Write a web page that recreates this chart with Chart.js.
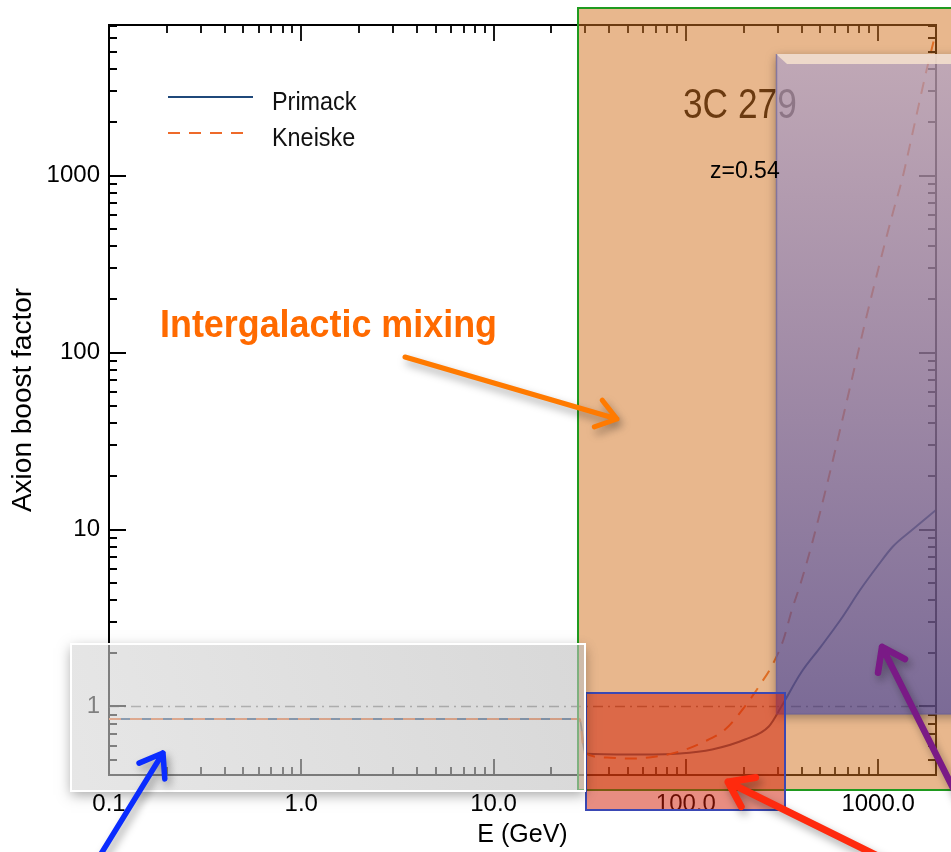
<!DOCTYPE html>
<html>
<head>
<meta charset="utf-8">
<title>3C 279 axion boost factor</title>
<script src="https://cdn.jsdelivr.net/npm/chart.js@4.4.1/dist/chart.umd.min.js"></script>
<style>
  html, body { margin: 0; padding: 0; background: #ffffff; }
  canvas { display: block; }
</style>
</head>
<body>
<canvas id="boost" width="951" height="852"></canvas>
<script>
// Boost factor versus photon energy (GeV) for two EBL models
const primackEnergy = [0.1, 28, 30, 52, 93, 137, 203, 270, 314, 398, 504, 639, 809, 989, 1194, 1511, 2000];
const primackBoost  = [0.85, 0.85, 0.54, 0.535, 0.543, 0.572, 0.651, 0.771, 1.0, 1.556, 2.18, 3.10, 4.58, 6.18, 8.02, 10.0, 12.9];

const kneiskeEnergy = [0.1, 28, 29.6, 38.9, 51.6, 70.2, 93, 122, 160, 201, 248, 279, 322, 354, 398, 459, 547, 638, 744, 858, 1000, 1194, 1344, 1512, 1804, 1982];
const kneiskeBoost  = [0.85, 0.85, 0.55, 0.515, 0.508, 0.522, 0.557, 0.626, 0.741, 0.987, 1.37, 1.68, 2.39, 3.44, 5.08, 8.78, 18.7, 37.7, 77.1, 150, 294, 618, 987, 1750, 4130, 6260];

// no-mixing reference level
const unityEnergy = [0.1, 2000];
const unityBoost  = [1, 1];

const seriesNames = ['Primack', 'Kneiske'];
const xTickValues = [0.1, 1, 10, 100, 1000];
const xTickText   = ['0.1', '1.0', '10.0', '100.0', '1000.0'];
const yTickValues = [1, 10, 100, 1000];
const yTickText   = ['1', '10', '100', '1000'];

const sourceName = '3C 279';
const redshiftText = 'z=0.54';
const calloutText = 'Intergalactic mixing';

const SANS = "'Liberation Sans', Arial, sans-serif";

const toPoints = (xs, ys) => xs.map((v, i) => ({ x: v, y: ys[i] }));

function labelFor(values, texts) {
  return (v) => {
    const i = values.findIndex(t => Math.abs(t - v) / t < 1e-6);
    return i >= 0 ? texts[i] : '';
  };
}
function isDecade(v) {
  const l = Math.log10(v);
  return Math.abs(l - Math.round(l)) < 1e-6;
}
function onLogGrid(v) {
  const m = v / Math.pow(10, Math.floor(Math.log10(v) + 1e-9));
  return Math.abs(m - Math.round(m)) < 1e-6;
}
// text squeezed horizontally, for the narrow lettering
function condensedText(ctx, text, x, y, font, sx) {
  ctx.save();
  ctx.font = font;
  ctx.textBaseline = 'alphabetic';
  ctx.translate(x, y);
  ctx.scale(sx, 1);
  ctx.fillText(text, 0, 0);
  ctx.restore();
}

// inward tick marks on all four sides, top/right frame, legend, source name
const frameAndLegend = {
  id: 'frameAndLegend',
  afterDatasetsDraw(chart) {
    const { ctx, chartArea: a, scales: { x, y } } = chart;
    ctx.save();
    ctx.strokeStyle = '#000';
    ctx.lineWidth = 2;
    ctx.beginPath();
    ctx.moveTo(a.left, a.top);
    ctx.lineTo(a.right, a.top);
    ctx.lineTo(a.right, a.bottom);
    ctx.stroke();

    ctx.lineWidth = 1.8;
    ctx.beginPath();
    for (const t of x.ticks) {
      if (!onLogGrid(t.value)) continue;
      const px = Math.round(x.getPixelForValue(t.value));
      const len = isDecade(t.value) ? 16 : 8;
      ctx.moveTo(px, a.bottom); ctx.lineTo(px, a.bottom - len);
      ctx.moveTo(px, a.top); ctx.lineTo(px, a.top + len);
    }
    for (const t of y.ticks) {
      if (!onLogGrid(t.value)) continue;
      const py = Math.round(y.getPixelForValue(t.value));
      const len = isDecade(t.value) ? 17 : 8;
      ctx.moveTo(a.left, py); ctx.lineTo(a.left + len, py);
      ctx.moveTo(a.right, py); ctx.lineTo(a.right - len, py);
    }
    ctx.stroke();

    // legend
    const rows = [[0, 97, 110, 253], [1, 133, 146, 250]];
    for (const [i, ly, ty, end] of rows) {
      const ds = chart.data.datasets[i];
      ctx.strokeStyle = ds.borderColor;
      ctx.lineWidth = 2;
      ctx.setLineDash(ds.borderDash || []);
      ctx.beginPath();
      ctx.moveTo(168, ly);
      ctx.lineTo(end, ly);
      ctx.stroke();
      ctx.setLineDash([]);
      ctx.fillStyle = '#111';
      condensedText(ctx, ds.label, 272, ty, '26px ' + SANS, 0.9);
    }

    ctx.fillStyle = '#000';
    condensedText(ctx, sourceName, 683, 118, '42px ' + SANS, 0.84);
    ctx.restore();
  }
};

function arrow(ctx, x0, y0, x1, y1, color, w, head) {
  const ang = Math.atan2(y1 - y0, x1 - x0);
  ctx.save();
  ctx.strokeStyle = color;
  ctx.lineWidth = w;
  ctx.lineCap = 'round';
  ctx.lineJoin = 'round';
  ctx.shadowColor = 'rgba(0,0,0,0.35)';
  ctx.shadowBlur = 9;
  ctx.shadowOffsetX = 3;
  ctx.shadowOffsetY = 5;
  ctx.beginPath();
  ctx.moveTo(x0, y0);
  ctx.lineTo(x1, y1);
  ctx.moveTo(x1 - head * Math.cos(ang - 0.62), y1 - head * Math.sin(ang - 0.62));
  ctx.lineTo(x1, y1);
  ctx.lineTo(x1 - head * Math.cos(ang + 0.62), y1 - head * Math.sin(ang + 0.62));
  ctx.stroke();
  ctx.restore();
}

function softShadow(ctx, x, y, w, h, blur, dy) {
  ctx.save();
  ctx.beginPath();
  ctx.rect(0, 0, ctx.canvas.width, ctx.canvas.height);
  ctx.rect(x, y, w, h);
  ctx.clip('evenodd');
  ctx.shadowColor = 'rgba(0,0,0,0.35)';
  ctx.shadowBlur = blur;
  ctx.shadowOffsetY = dy;
  ctx.fillStyle = '#000';
  ctx.fillRect(x, y, w, h);
  ctx.restore();
}

// highlighted regions, arrows and callout text
const highlights = {
  id: 'highlights',
  afterDraw(chart) {
    const { ctx } = chart;
    ctx.save();

    // intergalactic-mixing band
    ctx.fillStyle = 'rgba(210,114,31,0.51)';
    ctx.fillRect(578, 8, 400, 782);
    ctx.strokeStyle = '#1f9a1f';
    ctx.lineWidth = 2;
    ctx.beginPath();
    ctx.moveTo(990, 8); ctx.lineTo(578, 8); ctx.lineTo(578, 790); ctx.lineTo(990, 790);
    ctx.stroke();

    // high-energy panel
    softShadow(ctx, 776, 54, 220, 660, 10, 3);
    const g = ctx.createLinearGradient(0, 54, 0, 714);
    g.addColorStop(0, 'rgba(170,160,205,0.64)');
    g.addColorStop(0.5, 'rgba(118,112,180,0.64)');
    g.addColorStop(1, 'rgba(62,64,156,0.64)');
    ctx.fillStyle = g;
    ctx.fillRect(776, 54, 220, 660);
    ctx.fillStyle = 'rgba(246,226,206,0.85)';
    ctx.beginPath();
    ctx.moveTo(776, 54); ctx.lineTo(996, 54); ctx.lineTo(996, 64); ctx.lineTo(787, 64);
    ctx.closePath();
    ctx.fill();
    ctx.strokeStyle = 'rgba(110,100,150,0.7)';
    ctx.lineWidth = 1.5;
    ctx.beginPath();
    ctx.moveTo(776.5, 54); ctx.lineTo(776.5, 714); ctx.lineTo(996, 714);
    ctx.stroke();

    // low-energy dip box
    ctx.fillStyle = 'rgba(209,28,4,0.5)';
    ctx.fillRect(586, 693, 199, 117);
    ctx.strokeStyle = '#3a48b4';
    ctx.lineWidth = 2;
    ctx.strokeRect(586, 693, 199, 117);

    // no-mixing region
    softShadow(ctx, 71, 644, 514, 147, 12, 4);
    const gg = ctx.createLinearGradient(71, 791, 585, 644);
    gg.addColorStop(0, 'rgba(214,214,214,0.6)');
    gg.addColorStop(1, 'rgba(190,190,190,0.6)');
    ctx.fillStyle = gg;
    ctx.fillRect(71, 644, 514, 147);
    ctx.strokeStyle = '#ffffff';
    ctx.lineWidth = 2;
    ctx.strokeRect(71, 644, 514, 147);

    ctx.fillStyle = '#000';
    ctx.font = '23px ' + SANS;
    ctx.textBaseline = 'alphabetic';
    ctx.fillText(redshiftText, 710, 178);

    arrow(ctx, 405, 357, 617, 419, '#ff7a00', 5, 24);
    arrow(ctx, 96, 862, 163, 753, '#0a2cff', 5.5, 26);
    arrow(ctx, 890, 862, 728, 782, '#ff2a0e', 7, 28);
    arrow(ctx, 958, 798, 882, 647, '#7a1a86', 6.5, 26);

    ctx.fillStyle = '#ff6a00';
    condensedText(ctx, calloutText, 160, 337, 'bold 39px ' + SANS, 0.92);
    ctx.restore();
  }
};

new Chart(document.getElementById('boost'), {
  type: 'line',
  data: {
    datasets: [
      {
        label: seriesNames[0],
        data: toPoints(primackEnergy, primackBoost),
        borderColor: '#1f487a',
        borderWidth: 2,
        pointRadius: 0,
        cubicInterpolationMode: 'monotone',
        fill: false,
        order: 2
      },
      {
        label: seriesNames[1],
        data: toPoints(kneiskeEnergy, kneiskeBoost),
        borderColor: '#ee6a2a',
        borderWidth: 2,
        borderDash: [12, 9],
        pointRadius: 0,
        cubicInterpolationMode: 'monotone',
        fill: false,
        order: 1
      },
      {
        label: 'unity',
        data: toPoints(unityEnergy, unityBoost),
        borderColor: '#808080',
        borderWidth: 1.6,
        borderDash: [10, 5, 2, 5],
        pointRadius: 0,
        fill: false,
        order: 3
      }
    ]
  },
  options: {
    responsive: false,
    animation: false,
    devicePixelRatio: 1,
    layout: { padding: { top: 25, right: 4, left: 0, bottom: 0 } },
    plugins: { legend: { display: false }, tooltip: { enabled: false }, title: { display: false } },
    scales: {
      x: {
        type: 'logarithmic',
        min: 0.1,
        max: 2000,
        grid: { display: false, drawTicks: false },
        border: { display: true, color: '#000', width: 2 },
        ticks: {
          autoSkip: false,
          maxRotation: 0,
          padding: 15,
          color: '#000',
          font: { family: SANS, size: 24 },
          callback: labelFor(xTickValues, xTickText)
        },
        title: {
          display: true,
          text: 'E (GeV)',
          color: '#000',
          font: { family: SANS, size: 25 },
          padding: { top: 0, bottom: 2 }
        },
        afterFit(scale) { scale.height = 77; }
      },
      y: {
        type: 'logarithmic',
        min: 0.41,
        max: 7100,
        grid: { display: false, drawTicks: false },
        border: { display: true, color: '#000', width: 2 },
        ticks: {
          autoSkip: false,
          padding: 9,
          color: '#000',
          font: { family: SANS, size: 24 },
          callback: labelFor(yTickValues, yTickText)
        },
        title: {
          display: true,
          text: 'Axion boost factor',
          color: '#000',
          font: { family: SANS, size: 28 },
          padding: { top: 6, bottom: 0 }
        },
        afterFit(scale) { scale.width = 109; }
      }
    }
  },
  plugins: [frameAndLegend, highlights]
});
</script>
</body>
</html>
